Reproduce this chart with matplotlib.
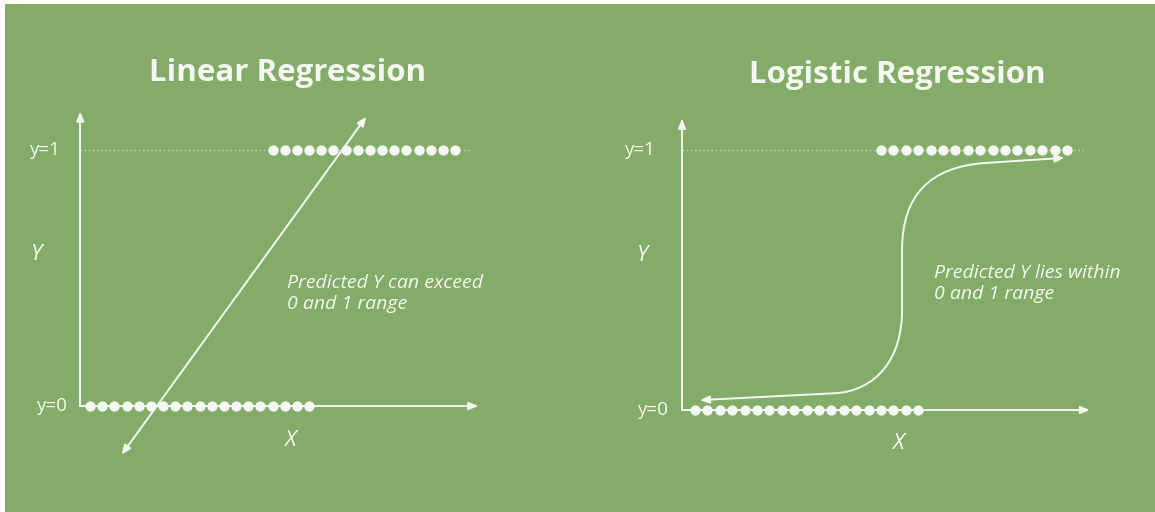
import matplotlib
matplotlib.use("Agg")
import matplotlib.pyplot as plt
from matplotlib.patches import FancyArrowPatch, Rectangle
from matplotlib.path import Path

# ---------------- data ----------------
titles = ["Linear Regression", "Logistic Regression"]
level_labels = ["y=0", "y=1"]
x_label = "X"
y_label = "Y"
notes = ["Predicted Y can exceed\n0 and 1 range",
         "Predicted Y lies within\n0 and 1 range"]

# class 0 (y=0) and class 1 (y=1) observations, x in "dot" units
class0_x = [1, 2, 3, 4, 5, 6, 7, 8, 9, 10, 11, 12, 13, 14, 15, 16, 17, 18, 19]
class1_x = [16, 17, 18, 19, 20, 21, 22, 23, 24, 25, 26, 27, 28, 29, 30, 31]

# linear fit (arrow both ends)
lin_fit_x = [3.6, 23.7]
lin_fit_y = [-0.19, 1.13]

# logistic curve: key points / bezier control points (x, y)
logit_pts_x = [1.4, 12.45, 15.5, 17.7, 17.7, 17.7, 17.7, 19.95, 24.4, 30.8]
logit_pts_y = [0.038, 0.065, 0.077, 0.19, 0.385, 0.615, 0.827, 0.935, 0.95, 0.97]

# ---------------- style ----------------
W, H = 1155, 512
BG = "#83AC69"
FG = "#F5F8F2"

fig = plt.figure(figsize=(W / 100, H / 100), dpi=100)
fig.patch.set_facecolor("white")
bg = Rectangle((5 / W, 0), 1, 1 - 4 / H, transform=fig.transFigure,
               facecolor=BG, edgecolor="none", zorder=-10)
fig.patches.append(bg)


def panel(x0pix, sx, y0pix, sy):
    ax = fig.add_axes([0, 0, 1, 1])
    ax.set_xlim(1 - x0pix / sx, 1 + (W - x0pix) / sx)
    ax.set_ylim((y0pix - H) / sy, y0pix / sy)
    ax.axis("off")
    ax.patch.set_alpha(0)
    return ax


def arrow(ax, path, style):
    p = FancyArrowPatch(path=path, arrowstyle=style, color=FG, lw=1.4,
                        mutation_scale=1, shrinkA=0, shrinkB=0,
                        capstyle="round", joinstyle="round")
    ax.add_patch(p)


HEAD = "-|>,head_length=5.5,head_width=2.3"
HEAD2 = "<|-|>,head_length=5.5,head_width=2.3"

tfont = dict(family=["Open Sans", "DejaVu Sans"], weight="bold", size=22.5,
             color=FG)
lfont = dict(family=["Open Sans", "DejaVu Sans"], size=13.5, color=FG)
ifont = dict(family=["Open Sans", "DejaVu Sans"], style="italic", size=16,
             color=FG)
nfont = dict(family=["Open Sans", "DejaVu Sans"], style="italic", size=14,
             color=FG)

configs = [
    dict(x0=90, sx=12.17, y0=406, sy=256, yax=0.2, ytop=1.15, xend=32.9,
         dend=32.2, title=(17.2, 1.3), l0=-0.9, l1=-1.47,
         ylab=(-3.35, 0.59), xlab=(17.4, -0.133), note=(17.2, 0.515)),
    dict(x0=695, sx=12.4, y0=410, sy=260, yax=-0.05, ytop=1.12, xend=32.85,
         dend=32.3, title=(17.3, 1.29), l0=-1.18, l1=-2.23,
         ylab=(-3.19, 0.596), xlab=(17.37, -0.127), note=(20.3, 0.562)),
]

axes = []
for i, c in enumerate(configs):
    ax = panel(c["x0"], c["sx"], c["y0"], c["sy"])
    axes.append(ax)
    # dotted y=1 guide
    ax.plot([c["yax"], c["dend"]], [1, 1], color=FG, lw=1.0, alpha=0.55,
            linestyle=(0, (1, 2)))
    # axes (L shape with arrows)
    arrow(ax, Path([(c["yax"], 0), (c["yax"], c["ytop"])]), HEAD)
    arrow(ax, Path([(c["yax"], 0), (c["xend"], 0)]), HEAD)
    # points
    ax.plot(class0_x, [0] * len(class0_x), "o", color=FG, ms=7.4, mec="none",
            zorder=5)
    ax.plot(class1_x, [1] * len(class1_x), "o", color=FG, ms=7.4, mec="none",
            zorder=5)
    # text
    ax.text(*c["title"], titles[i], ha="center", va="center", **tfont)
    ax.text(c["l0"], 0, level_labels[0], ha="right", va="center", **lfont)
    ax.text(c["l1"], 1, level_labels[1], ha="right", va="center", **lfont)
    ax.text(*c["ylab"], y_label, ha="center", va="center", **ifont)
    ax.text(*c["xlab"], x_label, ha="center", va="center", **ifont)
    ax.text(*c["note"], notes[i], ha="left", va="top", linespacing=1.2,
            **nfont)

# linear regression fit
arrow(axes[0], Path(list(zip(lin_fit_x, lin_fit_y))), HEAD2)

# logistic curve
verts = list(zip(logit_pts_x, logit_pts_y))
codes = [Path.MOVETO, Path.LINETO, Path.CURVE4, Path.CURVE4, Path.CURVE4,
         Path.LINETO, Path.CURVE4, Path.CURVE4, Path.CURVE4, Path.LINETO]
arrow(axes[1], Path(verts, codes), HEAD2)

fig.savefig("out.png", dpi=100, facecolor=fig.get_facecolor())
